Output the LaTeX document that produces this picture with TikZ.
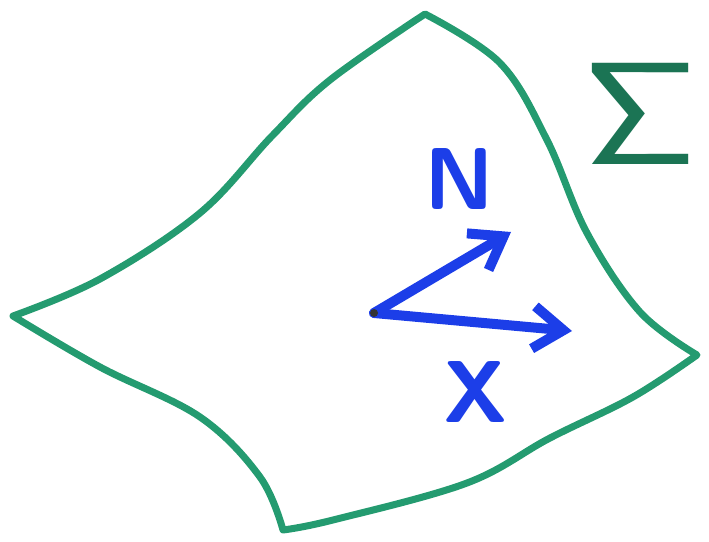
\documentclass[tikz,border=0pt]{standalone}
\usetikzlibrary{arrows.meta}

\definecolor{surfgreen}{RGB}{36,155,112}
\definecolor{vecblue}{RGB}{28,62,232}

\begin{document}
\begin{tikzpicture}[
    x=0.2mm, y=-0.2mm,
    edge/.style={draw=surfgreen, line width=1.4mm,
                 line join=round, line cap=round},
    vector/.style={draw=vecblue, line width=2mm, line cap=round,
                   -{Straight Barb[length=6mm, width=8.5mm,
                                   line width=2mm]}},
    veclabel/.style={text=vecblue, font=\sffamily\bfseries, scale=5,
                     inner sep=0pt},
    surflabel/.style={text=surfgreen!75!black, xscale=9, yscale=8.3,
                      inner sep=0pt},
]
\useasboundingbox (0,0) rectangle (709,542);

% ---------------- corners of the surface patch --------------------------
\coordinate (cleft)   at (13,316);
\coordinate (ctop)    at (425,14);
\coordinate (cright)  at (697,355);
\coordinate (cbottom) at (283,530);

% ---------------- boundary of Sigma (four curved edges) -----------------
\draw[edge]
    plot[smooth, tension=0.6] coordinates {(cleft) (100,279) (200,213)
        (272,136) (330,80) (ctop)}
    -- plot[smooth, tension=0.6] coordinates {(ctop) (500,63) (547,140)
        (587,233) (640,312) (cright)}
    -- plot[smooth, tension=0.6] coordinates {(cright) (633,397)
        (550,438) (467,483) (333,520) (cbottom)}
    -- plot[smooth, tension=0.6] coordinates {(cbottom) (260,477)
        (200,417) (100,367) (cleft)}
    -- cycle;

\node[surflabel] (sigma) at (641,114) {$\mathsf{\Sigma}$};

% ---------------- base point and the two vectors ------------------------
\coordinate (base) at (374,313);
\coordinate (ntip) at (511,232);
\coordinate (xtip) at (572,331);

\draw[vector] (base) -- (ntip);
\draw[vector] (base) -- (xtip);
\fill[black!80] (base) circle (4);

\node[veclabel] (nlabel) at (459,179) {N};
\node[veclabel] (xlabel) at (476,392) {X};

\end{tikzpicture}
\end{document}
